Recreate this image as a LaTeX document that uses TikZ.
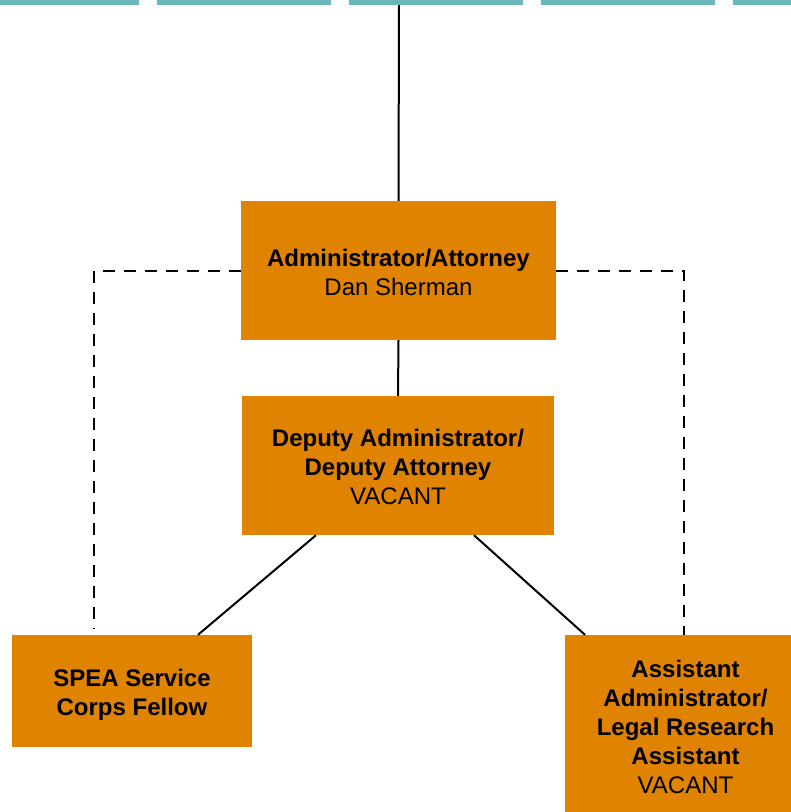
\documentclass[tikz,border=0pt]{standalone}
\usepackage{fontspec}
\setmainfont{Liberation Sans}
\usetikzlibrary{calc}
\definecolor{boxorange}{RGB}{224,131,0}
\definecolor{barteal}{RGB}{103,185,185}
\begin{document}
\begin{tikzpicture}[x=1pt,y=-1pt,
  orgbox/.style={fill=boxorange, draw=none, inner sep=0pt},
  orgtext/.style={align=center, inner sep=0pt, font=\fontsize{24}{29}\selectfont},
  solidlink/.style={draw=black, line width=2pt},
  dashlink/.style={draw=black, line width=2pt, dash pattern=on 12pt off 9pt}]
\useasboundingbox (0,0) rectangle (791,812);
\clip (0,0) rectangle (791,812);
% top row of teal bars
\foreach \a/\b in {0/139,157/331,349/523,541/715,733/791}
  \fill[barteal] (\a,0) rectangle (\b,5);
\coordinate (top) at (399,5);
% boxes
\node[orgbox, minimum width=315pt, minimum height=139pt] (admin) at (398.5,270.5) {};
\node[orgbox, minimum width=312pt, minimum height=139pt] (dep) at (398,465.5) {};
\node[orgbox, minimum width=240pt, minimum height=112pt] (spea) at (132,691) {};
\node[orgbox, minimum width=241pt, minimum height=184pt] (asst) at (685.5,727) {};
% box labels (yshift is in page units: negative moves down)
\node[orgtext] (adminlabel) at ([yshift=-2pt]admin.center)
  {\textbf{Administrator/Attorney}\\Dan Sherman};
\node[orgtext] (deplabel) at ([yshift=-1pt]dep.center)
  {\textbf{Deputy Administrator/}\\\textbf{Deputy Attorney}\\VACANT};
\node[orgtext] (spealabel) at ([yshift=-4pt]spea.center)
  {\textbf{SPEA Service}\\\textbf{Corps Fellow}};
\node[orgtext] (asstlabel) at (asst.center)
  {\textbf{Assistant}\\\textbf{Administrator/}\\\textbf{Legal Research}\\\textbf{Assistant}\\VACANT};
% solid reporting lines
\draw[solidlink] (top) -- (admin.north);
\draw[solidlink] (admin.south) -- (dep.north);
\draw[solidlink] ([xshift=-82pt]dep.south) -- ([xshift=66pt]spea.north);
\draw[solidlink] ([xshift=76pt]dep.south) -- ([xshift=-100.5pt]asst.north);
% dotted-line relationships
\draw[dashlink] (admin.west) -| ([xshift=-38pt,yshift=6pt]spea.north);
\draw[dashlink] (admin.east) -| ([xshift=-1.5pt]asst.north);
\end{tikzpicture}
\end{document}
